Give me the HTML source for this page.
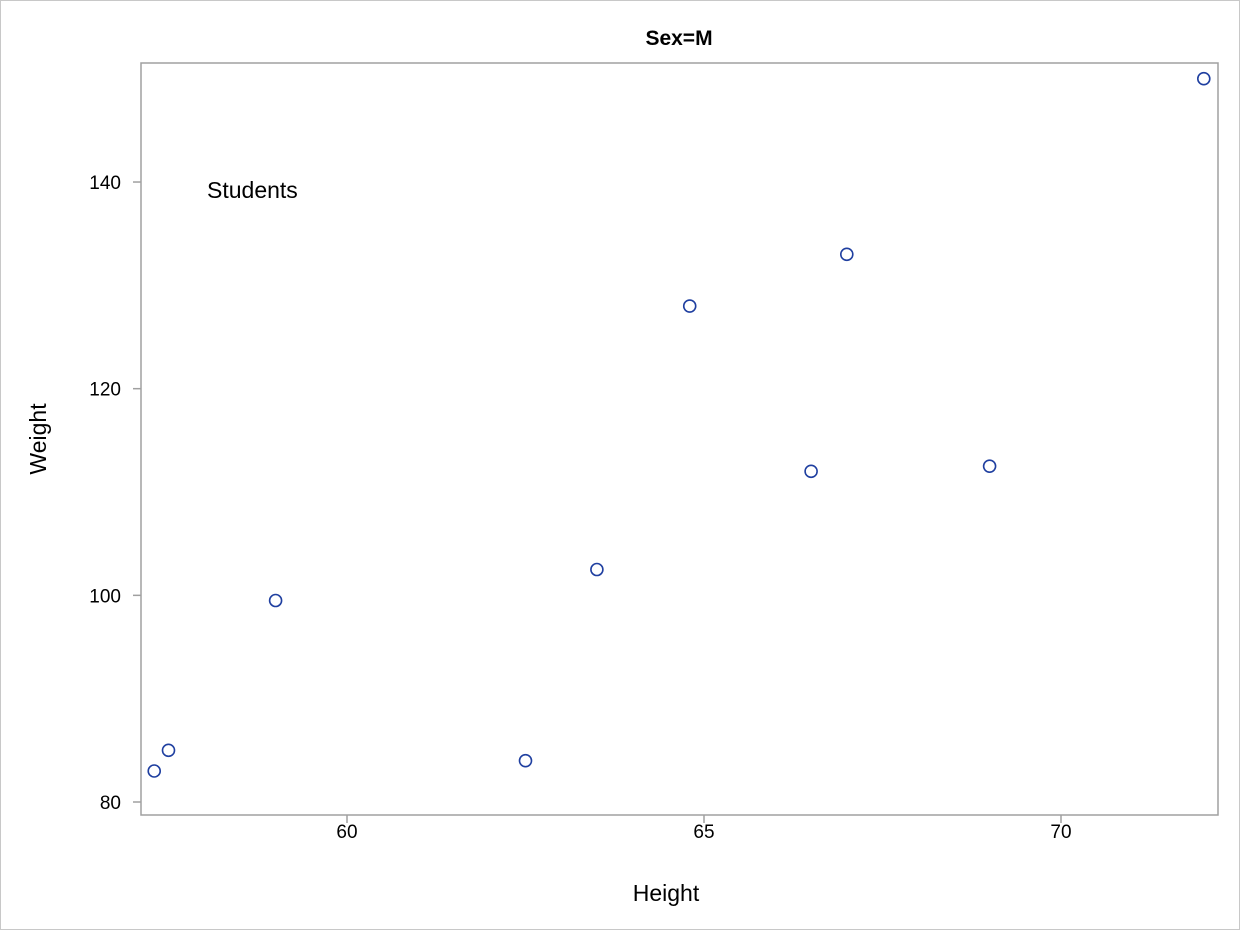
<!DOCTYPE html>
<html>
<head>
<meta charset="utf-8">
<style>
html,body{margin:0;padding:0;background:#fff;}
svg{display:block;font-family:"Liberation Sans",Arial,sans-serif;}
</style>
</head>
<body>
<svg id="chart" width="1240" height="930" viewBox="0 0 1240 930">
  <rect x="0.5" y="0.5" width="1239" height="929" fill="#fff" stroke="#c8c8c8"/>
  <text x="679" y="45" text-anchor="middle" font-size="21" font-weight="bold" fill="#000">Sex=M</text>
  <rect x="141" y="63" width="1077" height="752" fill="none" stroke="#a0a0a0" stroke-width="1.5"/>
  <text x="207" y="198" font-size="23" fill="#000">Students</text>
  <text x="666" y="901" text-anchor="middle" font-size="23" fill="#000">Height</text>
  <text transform="translate(46,439) rotate(-90)" text-anchor="middle" font-size="23" fill="#000">Weight</text>
  <g id="xaxis"></g>
  <g id="yaxis"></g>
  <g id="points"></g>
</svg>
<script>
const heights = [69, 63.5, 57.3, 62.5, 59, 72, 64.8, 67, 57.5, 66.5];
const weights = [112.5, 102.5, 83, 84, 99.5, 150, 128, 133, 85, 112];
const xTicks = [60, 65, 70];
const yTicks = [80, 100, 120, 140];

const NS = "http://www.w3.org/2000/svg";
function xScale(v){ return 347 + (v - 60) * 71.4; }
function yScale(v){ return 802 - (v - 80) * 10.333; }

const xg = document.getElementById('xaxis');
xTicks.forEach(t => {
  const x = xScale(t);
  const l = document.createElementNS(NS, 'line');
  l.setAttribute('x1', x); l.setAttribute('x2', x);
  l.setAttribute('y1', 815); l.setAttribute('y2', 823);
  l.setAttribute('stroke', '#a0a0a0'); l.setAttribute('stroke-width', '1.5');
  
  
  xg.appendChild(l);
  const tx = document.createElementNS(NS, 'text');
  tx.setAttribute('x', x); tx.setAttribute('y', 838);
  tx.setAttribute('text-anchor', 'middle'); tx.setAttribute('font-size', '19');
  tx.textContent = t;
  
  
  xg.appendChild(tx);
});

const yg = document.getElementById('yaxis');
yTicks.forEach(t => {
  const y = yScale(t);
  const l = document.createElementNS(NS, 'line');
  l.setAttribute('x1', 133); l.setAttribute('x2', 141);
  l.setAttribute('y1', y); l.setAttribute('y2', y);
  l.setAttribute('stroke', '#a0a0a0'); l.setAttribute('stroke-width', '1.5');
  
  
  yg.appendChild(l);
  const tx = document.createElementNS(NS, 'text');
  tx.setAttribute('x', 121); tx.setAttribute('y', y + 7);
  tx.setAttribute('text-anchor', 'end'); tx.setAttribute('font-size', '19');
  tx.textContent = t;
  
  
  yg.appendChild(tx);
});

const pg = document.getElementById('points');
heights.forEach((h, i) => {
  const c = document.createElementNS(NS, 'circle');
  c.setAttribute('cx', xScale(h));
  c.setAttribute('cy', yScale(weights[i]));
  c.setAttribute('r', 6);
  c.setAttribute('fill', 'none');
  c.setAttribute('stroke', '#1f3fa0');
  c.setAttribute('stroke-width', '1.6');
  
  
  pg.appendChild(c);
});
</script>
</body>
</html>
